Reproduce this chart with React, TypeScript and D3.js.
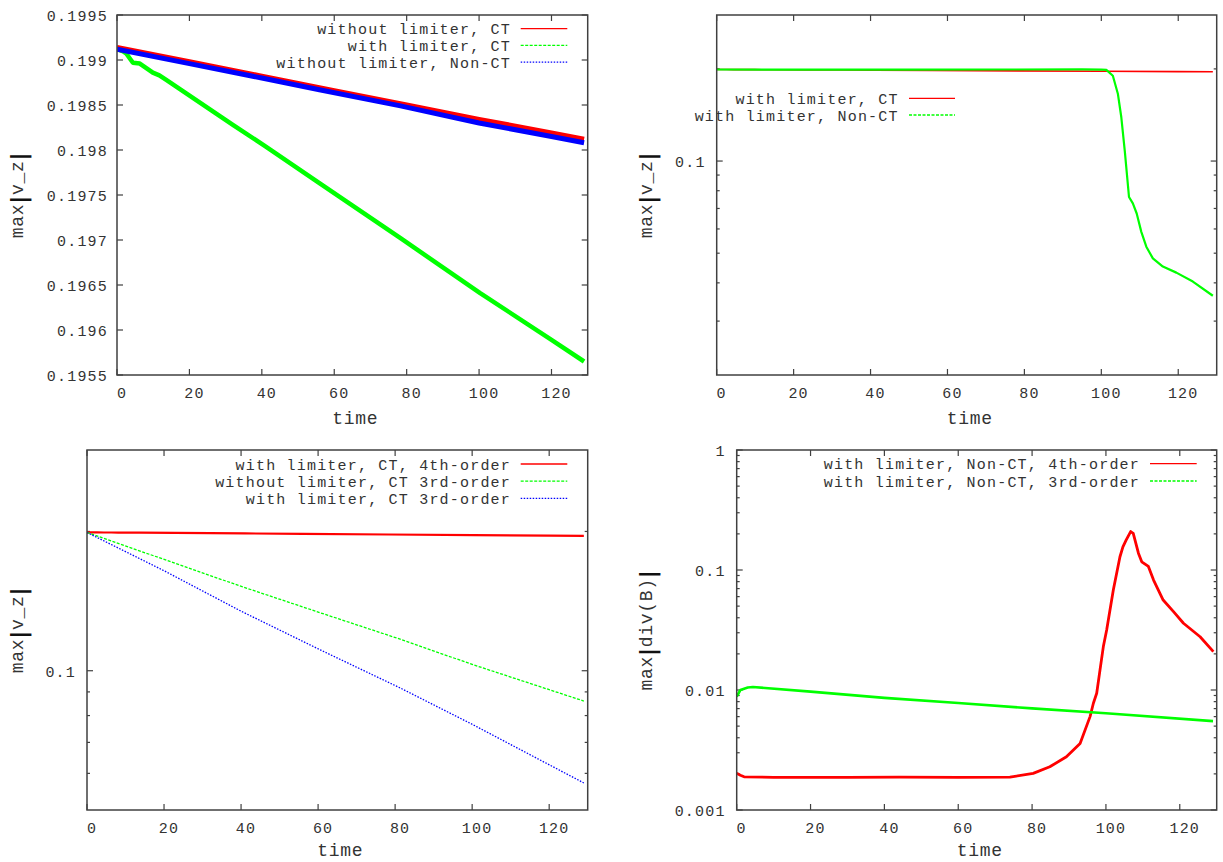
import React from "react";
import * as d3 from "d3";

// ---------- data ----------
const xTicks = [0, 20, 40, 60, 80, 100, 120];

// top-left: linear max|v_z|
const tlYTicks = [0.1955, 0.196, 0.1965, 0.197, 0.1975, 0.198, 0.1985, 0.199, 0.1995];
const tlYLabels = ["0.1955", "0.196", "0.1965", "0.197", "0.1975", "0.198", "0.1985", "0.199", "0.1995"];

const noLimCT: [number, number][] = [
  [0, 0.19914], [20, 0.19898], [40, 0.19882], [60, 0.19866], [80, 0.1985],
  [100, 0.19834], [120, 0.19819], [129, 0.19812],
];
const limCT: [number, number][] = [
  [0, 0.19912], [1.5, 0.1991], [2.6, 0.19907], [4.4, 0.19897], [6.3, 0.19896],
  [8.1, 0.19891], [9.9, 0.19886], [11.7, 0.19883], [13.6, 0.19878], [22.8, 0.19853],
  [32, 0.19828], [41, 0.19804], [56, 0.19763], [78.3, 0.19702], [100.3, 0.19641],
  [120, 0.19589], [129, 0.19565],
];
const noLimNonCT: [number, number][] = [
  [0, 0.19912], [20, 0.19896], [40, 0.1988], [55.9, 0.19867], [78.3, 0.19849],
  [100, 0.1983], [120, 0.19815], [129, 0.19808],
];

// top-right: log
const trMajor = [0.1];
const trMajorLabels = ["0.1"];
const trMinor = [0.03, 0.04, 0.05, 0.06, 0.07, 0.08, 0.09, 0.2];
const limNonCT: [number, number][] = [
  [0, 0.1991], [25, 0.199], [50, 0.199], [75, 0.1991], [95, 0.1992], [100, 0.199],
  [101.3, 0.1985], [103, 0.19], [104.3, 0.166], [105.2, 0.139], [106.1, 0.108],
  [107.2, 0.0763], [108.2, 0.0727], [109.2, 0.0674], [110.4, 0.0587], [111.7, 0.0525],
  [113.4, 0.0481], [116, 0.0452], [119.5, 0.0432], [123.8, 0.0404], [129, 0.0363],
];

// bottom-left: log
const blMajor = [0.1];
const blMajorLabels = ["0.1"];
const blMinor = [0.06, 0.07, 0.08, 0.09, 0.2];
const noLimCT3: [number, number][] = [
  [0, 0.199], [39.7, 0.1525], [60.5, 0.1335], [81.3, 0.117], [100, 0.1032], [129, 0.086],
];
const limCT3: [number, number][] = [
  [0, 0.199], [20, 0.1645], [40, 0.1345], [60.5, 0.111], [81.3, 0.0918], [100, 0.0766], [129, 0.0572],
];

// bottom-right: log max|div(B)|
const brMajor = [0.001, 0.01, 0.1, 1];
const brMajorLabels = ["0.001", "0.01", "0.1", "1"];
const brMinor = [
  0.002, 0.003, 0.004, 0.005, 0.006, 0.007, 0.008, 0.009,
  0.02, 0.03, 0.04, 0.05, 0.06, 0.07, 0.08, 0.09,
  0.2, 0.3, 0.4, 0.5, 0.6, 0.7, 0.8, 0.9,
];
const divB4th: [number, number][] = [
  [0, 0.00202], [1, 0.00195], [2, 0.00189], [10, 0.00187], [30, 0.00187], [44, 0.00188],
  [60, 0.00187], [74, 0.00188], [80.3, 0.00202], [84.8, 0.00229], [89.3, 0.00278],
  [93, 0.00359], [95.7, 0.006], [96.6, 0.00775], [97.5, 0.00939], [98.4, 0.0147],
  [99.3, 0.023], [100.2, 0.0316], [102, 0.068], [103.8, 0.129], [104.6, 0.156],
  [105.5, 0.178], [106.7, 0.209], [107.4, 0.202], [108.8, 0.138], [109.7, 0.117],
  [111.5, 0.107], [112.9, 0.0825], [115.5, 0.0562], [118.3, 0.045], [121, 0.036],
  [125.5, 0.0278], [129.1, 0.0209],
];
const divB3rd: [number, number][] = [
  [0, 0.0088], [1, 0.01], [3, 0.0105], [4.4, 0.0106], [20, 0.0097], [40, 0.0086],
  [60, 0.0078], [80, 0.00703], [100, 0.0064], [129, 0.0055],
];

// ---------- styling ----------
const FONT = "'Liberation Mono', 'Courier New', monospace";
const TXT = "#333";
const FRAME = "#404040";
const RED = "#ff0000";
const GREEN = "#00ff00";
const BLUE = "#0000ff";

type Series = { data: [number, number][]; color: string; width: number; dash?: string };
type LegendRow = { label: string; color: string; dash?: string };

type PanelProps = {
  x0: number; x1: number; y0: number; y1: number;
  log: boolean; yDomain: [number, number];
  major: number[]; majorLabels: string[]; minor: number[];
  series: Series[];
  legend: LegendRow[];
  legendRight: number; legendLineX0: number; legendLineX1: number; legendY0: number; legendDY: number;
  ylabel: string[]; ylabelX: number; labelGap: number; xlabelDY: number;
};

function YLabel({ parts, x, y }: { parts: string[]; x: number; y: number }) {
  return (
    <text transform={`translate(${x},${y}) rotate(-90)`} textAnchor="middle" dominantBaseline="central"
      fontFamily={FONT} fontSize={18} letterSpacing={0.7} fill={TXT}>
      {parts.map((p, i) =>
        p === "|" ? (
          <tspan key={i} fontFamily="'DejaVu Sans', sans-serif" fontWeight="bold" fontSize={22} fill="#111">|</tspan>
        ) : (
          <tspan key={i}>{p}</tspan>
        )
      )}
    </text>
  );
}

function Panel(p: PanelProps) {
  const x = d3.scaleLinear().domain([0, 130]).range([p.x0, p.x1]);
  const y = (p.log ? d3.scaleLog() : d3.scaleLinear()).domain(p.yDomain).range([p.y1, p.y0]);
  const line = d3.line<[number, number]>().x((d) => x(d[0])).y((d) => y(d[1]));
  const clipId = `clip-${Math.round(p.x0)}-${Math.round(p.y0)}`;
  const T = 6, t = 3;
  return (
    <g>
      <defs>
        <clipPath id={clipId}>
          <rect x={p.x0} y={p.y0} width={p.x1 - p.x0} height={p.y1 - p.y0} />
        </clipPath>
      </defs>
      {xTicks.map((v) => (
        <g key={"x" + v}>
          <line x1={x(v)} x2={x(v)} y1={p.y1} y2={p.y1 - T} stroke={FRAME} strokeWidth={1.2} />
          <line x1={x(v)} x2={x(v)} y1={p.y0} y2={p.y0 + T} stroke={FRAME} strokeWidth={1.2} />
          <text x={x(v) + 5} y={p.y1 + 23} textAnchor="middle" fontFamily={FONT} fontSize={15}
            letterSpacing={1.2} fill={TXT}>{String(v)}</text>
        </g>
      ))}
      {p.major.map((v, i) => (
        <g key={"ym" + v}>
          <line x1={p.x0} x2={p.x0 + T} y1={y(v)} y2={y(v)} stroke={FRAME} strokeWidth={1.2} />
          <line x1={p.x1} x2={p.x1 - T} y1={y(v)} y2={y(v)} stroke={FRAME} strokeWidth={1.2} />
          <text x={p.x0 - p.labelGap} y={y(v) + 6} textAnchor="end" fontFamily={FONT} fontSize={15}
            letterSpacing={1.2} fill={TXT}>{p.majorLabels[i]}</text>
        </g>
      ))}
      {p.minor.map((v) => (
        <g key={"yn" + v}>
          <line x1={p.x0} x2={p.x0 + t} y1={y(v)} y2={y(v)} stroke={FRAME} strokeWidth={1.2} />
          <line x1={p.x1} x2={p.x1 - t} y1={y(v)} y2={y(v)} stroke={FRAME} strokeWidth={1.2} />
        </g>
      ))}
      <g clipPath={`url(#${clipId})`}>
        {p.series.map((s, i) => (
          <path key={i} d={line(s.data) || ""} fill="none" stroke={s.color} strokeWidth={s.width}
            strokeDasharray={s.dash} strokeLinejoin="round" />
        ))}
      </g>
      {p.legend.map((r, i) => {
        const ly = p.legendY0 + i * p.legendDY;
        return (
          <g key={"lg" + i}>
            <text x={p.legendRight} y={ly + 5.5} textAnchor="end" fontFamily={FONT} fontSize={15}
              letterSpacing={1.2} fill={TXT}>{r.label}</text>
            <line x1={p.legendLineX0} x2={p.legendLineX1} y1={ly} y2={ly} stroke={r.color}
              strokeWidth={1.3} strokeDasharray={r.dash} />
          </g>
        );
      })}
      <rect x={p.x0} y={p.y0} width={p.x1 - p.x0} height={p.y1 - p.y0} fill="none" stroke={FRAME} strokeWidth={1.5} />
      <text x={(p.x0 + p.x1) / 2 + 3} y={p.y1 + p.xlabelDY} textAnchor="middle" fontFamily={FONT} fontSize={18}
        letterSpacing={0.7} fill={TXT}>time</text>
      <YLabel parts={p.ylabel} x={p.ylabelX} y={(p.y0 + p.y1) / 2} />
    </g>
  );
}

export default function App() {
  const vz = ["max", "|", "v_z", "|"];
  return (
    <svg width={1223} height={862} style={{ position: "absolute", left: 0, top: 0, background: "#fff" }}>
      <rect width={1223} height={862} fill="#fff" />
      <Panel
        x0={117} x1={587.7} y0={15} y1={375} log={false} yDomain={[0.1955, 0.1995]}
        major={tlYTicks} majorLabels={tlYLabels} minor={[]}
        series={[
          { data: noLimCT, color: RED, width: 5 },
          { data: limCT, color: GREEN, width: 4.5 },
          { data: noLimNonCT, color: BLUE, width: 5 },
        ]}
        legend={[
          { label: "without limiter, CT", color: RED },
          { label: "with limiter, CT", color: GREEN, dash: "3,1.5" },
          { label: "without limiter, Non-CT", color: BLUE, dash: "1.5,1.5" },
        ]}
        legendRight={511} legendLineX0={520.7} legendLineX1={567.3} legendY0={28.7} legendDY={16.7}
        ylabel={vz} ylabelX={18} labelGap={9} xlabelDY={49}
      />
      <Panel
        x0={716.7} x1={1216.7} y0={15} y1={375} log={true} yDomain={[0.02, 0.3]}
        major={trMajor} majorLabels={trMajorLabels} minor={trMinor}
        series={[
          { data: limCT, color: RED, width: 1.6 },
          { data: limNonCT, color: GREEN, width: 2.2 },
        ]}
        legend={[
          { label: "with limiter, CT", color: RED },
          { label: "with limiter, Non-CT", color: GREEN, dash: "3,1.5" },
        ]}
        legendRight={898.7} legendLineX0={909} legendLineX1={955} legendY0={98.3} legendDY={16.7}
        ylabel={vz} ylabelX={647} labelGap={11} xlabelDY={49}
      />
      <Panel
        x0={87} x1={587.7} y0={450} y1={810} log={true} yDomain={[0.05, 0.3]}
        major={blMajor} majorLabels={blMajorLabels} minor={blMinor}
        series={[
          { data: limCT, color: RED, width: 2.2 },
          { data: noLimCT3, color: GREEN, width: 1.3, dash: "3,1.5" },
          { data: limCT3, color: BLUE, width: 1.3, dash: "1.5,1.5" },
        ]}
        legend={[
          { label: "with limiter, CT, 4th-order", color: RED },
          { label: "without limiter, CT 3rd-order", color: GREEN, dash: "3,1.5" },
          { label: "with limiter, CT 3rd-order", color: BLUE, dash: "1.5,1.5" },
        ]}
        legendRight={511} legendLineX0={520.7} legendLineX1={567.3} legendY0={464} legendDY={17.2}
        ylabel={vz} ylabelX={18} labelGap={11} xlabelDY={46}
      />
      <Panel
        x0={736.7} x1={1216.7} y0={450} y1={810} log={true} yDomain={[0.001, 1]}
        major={brMajor} majorLabels={brMajorLabels} minor={brMinor}
        series={[
          { data: divB4th, color: RED, width: 2.8 },
          { data: divB3rd, color: GREEN, width: 2.6 },
        ]}
        legend={[
          { label: "with limiter, Non-CT, 4th-order", color: RED },
          { label: "with limiter, Non-CT, 3rd-order", color: GREEN, dash: "3,1.5" },
        ]}
        legendRight={1140} legendLineX0={1150} legendLineX1={1196.7} legendY0={463.7} legendDY={17.3}
        ylabel={["max", "|", "div(B)", "|"]} ylabelX={647} labelGap={11} xlabelDY={46}
      />
    </svg>
  );
}
